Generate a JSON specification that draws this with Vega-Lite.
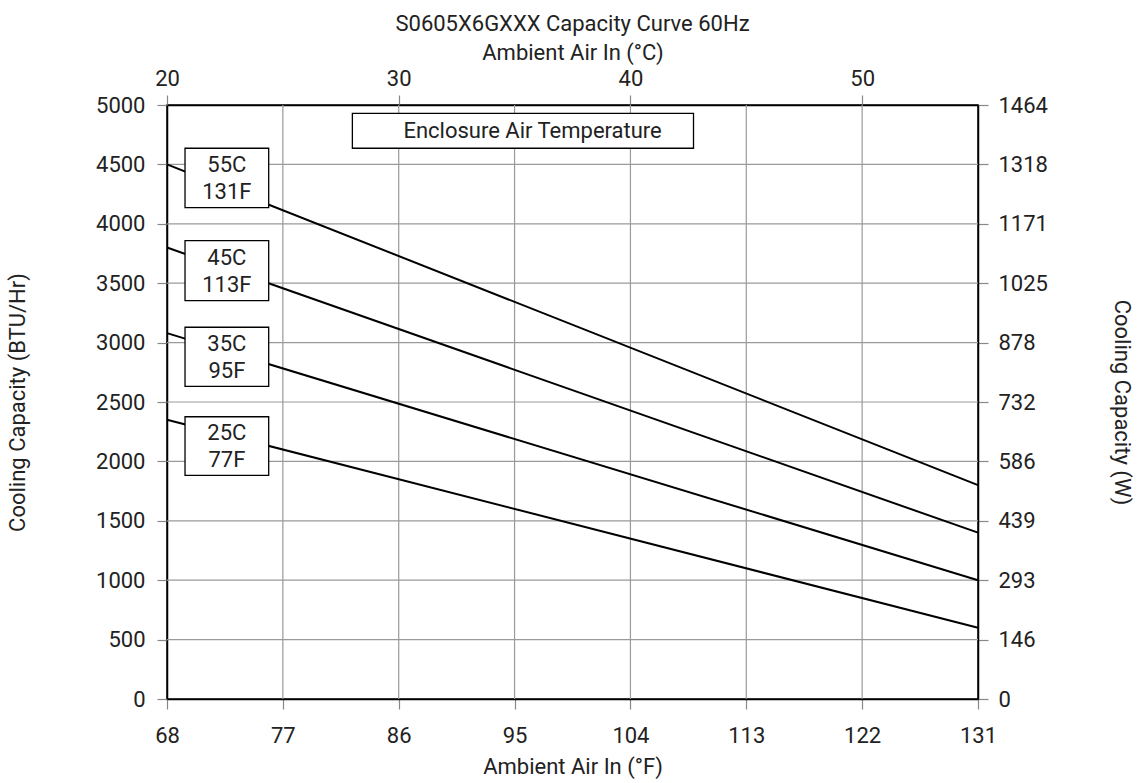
{
  "$schema": "https://vega.github.io/schema/vega-lite/v6.json",
  "width": 811,
  "height": 594,
  "autosize": {"type": "none"},
  "padding": {"left": 167, "top": 105, "right": 163, "bottom": 84},
  "background": "white",
  "title": {"text": "S0605X6GXXX Capacity Curve 60Hz", "fontSize": 22, "fontWeight": "normal", "font": "Roboto", "color": "#222", "offset": 5},
  "config": {
    "font": "Roboto",
    "view": {"stroke": "black", "strokeWidth": 1.5},
    "axis": {
      "labelFont": "Roboto", "labelFontSize": 22, "labelColor": "#222",
      "titleFont": "Roboto", "titleFontSize": 22, "titleFontWeight": "normal", "titleColor": "#222",
      "domainColor": "black", "domainWidth": 1.5,
      "tickColor": "#888", "tickSize": 10, "tickWidth": 1.2,
      "labelFlush": false, "labelOverlap": false
    }
  },
  "datasets": {
    "curves": [
      {"series": "55C", "F": 68, "BTU": 4500}, {"series": "55C", "F": 131, "BTU": 1800},
      {"series": "45C", "F": 68, "BTU": 3800}, {"series": "45C", "F": 131, "BTU": 1400},
      {"series": "35C", "F": 68, "BTU": 3080}, {"series": "35C", "F": 131, "BTU": 1000},
      {"series": "25C", "F": 68, "BTU": 2350}, {"series": "25C", "F": 131, "BTU": 600}
    ],
    "fgrid": [{"F": 77}, {"F": 86}, {"F": 95}, {"F": 104}, {"F": 113}, {"F": 122}],
    "bgrid": [{"BTU": 500}, {"BTU": 1000}, {"BTU": 1500}, {"BTU": 2000}, {"BTU": 2500}, {"BTU": 3000}, {"BTU": 3500}, {"BTU": 4000}, {"BTU": 4500}],
    "boxes": [
      {"label": "55C\n131F", "x1": 69.4, "x2": 75.9, "y1": 4136, "y2": 4636, "tx": 72.65, "ty": 4386},
      {"label": "45C\n113F", "x1": 69.4, "x2": 75.9, "y1": 3353, "y2": 3858, "tx": 72.65, "ty": 3605},
      {"label": "35C\n95F", "x1": 69.4, "x2": 75.9, "y1": 2632, "y2": 3129, "tx": 72.65, "ty": 2880},
      {"label": "25C\n77F", "x1": 69.4, "x2": 75.9, "y1": 1883, "y2": 2376, "tx": 72.65, "ty": 2130}
    ],
    "banner": [
      {"label": "Enclosure Air Temperature", "x1": 82.4, "x2": 108.9, "y1": 4636, "y2": 4930, "tx": 96.4, "ty": 4783}
    ],
    "celsius": [{"C": 20}, {"C": 30}, {"C": 40}, {"C": 50}],
    "watts": [{"W": 0}, {"W": 1464}]
  },
  "layer": [
    {
      "layer": [
        {
          "data": {"name": "fgrid"},
          "mark": {"type": "rule", "color": "#9a9a9a", "strokeWidth": 1.2},
          "encoding": {
            "x": {"field": "F", "type": "quantitative", "title": "Ambient Air In (°F)", "scale": {"domain": [68, 131], "nice": false, "zero": false}}
          }
        },
        {
          "data": {"name": "bgrid"},
          "mark": {"type": "rule", "color": "#9a9a9a", "strokeWidth": 1.2},
          "encoding": {
            "y": {"field": "BTU", "type": "quantitative", "title": "Cooling Capacity (BTU/Hr)", "scale": {"domain": [0, 5000], "nice": false, "zero": false}}
          }
        },
        {
          "data": {"name": "curves"},
          "mark": {"type": "line", "color": "black", "strokeWidth": 2},
          "encoding": {
            "x": {"field": "F", "type": "quantitative", "title": "Ambient Air In (°F)",
                  "scale": {"domain": [68, 131], "nice": false, "zero": false},
                  "axis": {"orient": "bottom", "grid": false, "values": [68, 77, 86, 95, 104, 113, 122, 131], "labelPadding": 16, "titlePadding": 10}},
            "y": {"field": "BTU", "type": "quantitative", "title": "Cooling Capacity (BTU/Hr)",
                  "scale": {"domain": [0, 5000], "nice": false, "zero": false},
                  "axis": {"orient": "left", "grid": false, "format": "d", "values": [0, 500, 1000, 1500, 2000, 2500, 3000, 3500, 4000, 4500, 5000], "labelPadding": 12, "titlePadding": 66}},
            "detail": {"field": "series", "type": "nominal"}
          }
        },
        {
          "data": {"name": "boxes"},
          "mark": {"type": "rect", "fill": "white", "stroke": "black", "strokeWidth": 1.3},
          "encoding": {
            "x": {"field": "x1", "type": "quantitative", "title": "Ambient Air In (°F)", "scale": {"domain": [68, 131], "nice": false, "zero": false}},
            "x2": {"field": "x2"},
            "y": {"field": "y1", "type": "quantitative", "title": "Cooling Capacity (BTU/Hr)", "scale": {"domain": [0, 5000], "nice": false, "zero": false}},
            "y2": {"field": "y2"}
          }
        },
        {
          "data": {"name": "banner"},
          "mark": {"type": "rect", "fill": "white", "stroke": "black", "strokeWidth": 1.3},
          "encoding": {
            "x": {"field": "x1", "type": "quantitative", "title": "Ambient Air In (°F)", "scale": {"domain": [68, 131], "nice": false, "zero": false}},
            "x2": {"field": "x2"},
            "y": {"field": "y1", "type": "quantitative", "title": "Cooling Capacity (BTU/Hr)", "scale": {"domain": [0, 5000], "nice": false, "zero": false}},
            "y2": {"field": "y2"}
          }
        },
        {
          "data": {"name": "boxes"},
          "mark": {"type": "text", "font": "Roboto", "fontSize": 22, "color": "#222", "lineBreak": "\n", "lineHeight": 27, "align": "center", "baseline": "middle", "dy": -13},
          "encoding": {
            "x": {"field": "tx", "type": "quantitative", "title": "Ambient Air In (°F)", "scale": {"domain": [68, 131], "nice": false, "zero": false}},
            "y": {"field": "ty", "type": "quantitative", "title": "Cooling Capacity (BTU/Hr)", "scale": {"domain": [0, 5000], "nice": false, "zero": false}},
            "text": {"field": "label", "type": "nominal"}
          }
        },
        {
          "data": {"name": "banner"},
          "mark": {"type": "text", "font": "Roboto", "fontSize": 22, "color": "#222", "align": "center", "baseline": "middle"},
          "encoding": {
            "x": {"field": "tx", "type": "quantitative", "title": "Ambient Air In (°F)", "scale": {"domain": [68, 131], "nice": false, "zero": false}},
            "y": {"field": "ty", "type": "quantitative", "title": "Cooling Capacity (BTU/Hr)", "scale": {"domain": [0, 5000], "nice": false, "zero": false}},
            "text": {"field": "label", "type": "nominal"}
          }
        }
      ]
    },
    {
      "data": {"name": "celsius"},
      "mark": {"type": "rule", "strokeOpacity": 0},
      "encoding": {
        "x": {"field": "C", "type": "quantitative", "title": "Ambient Air In (°C)",
              "scale": {"domain": [20, 55], "nice": false, "zero": false},
              "axis": {"orient": "top", "values": [20, 30, 40, 50], "grid": false, "labelPadding": 5, "titlePadding": 3}}
      }
    },
    {
      "data": {"name": "watts"},
      "mark": {"type": "rule", "strokeOpacity": 0},
      "encoding": {
        "y": {"field": "W", "type": "quantitative", "title": "Cooling Capacity (W)",
              "scale": {"domain": [0, 1464], "nice": false, "zero": false},
              "axis": {"orient": "right", "values": [0, 146.4, 292.8, 439.2, 585.6, 732, 878.4, 1024.8, 1171.2, 1317.6, 1464], "format": ".0f", "grid": false, "labelPadding": 10, "titlePadding": 62}}
      }
    }
  ],
  "resolve": {"scale": {"x": "independent", "y": "independent"}, "axis": {"x": "independent", "y": "independent"}}
}
